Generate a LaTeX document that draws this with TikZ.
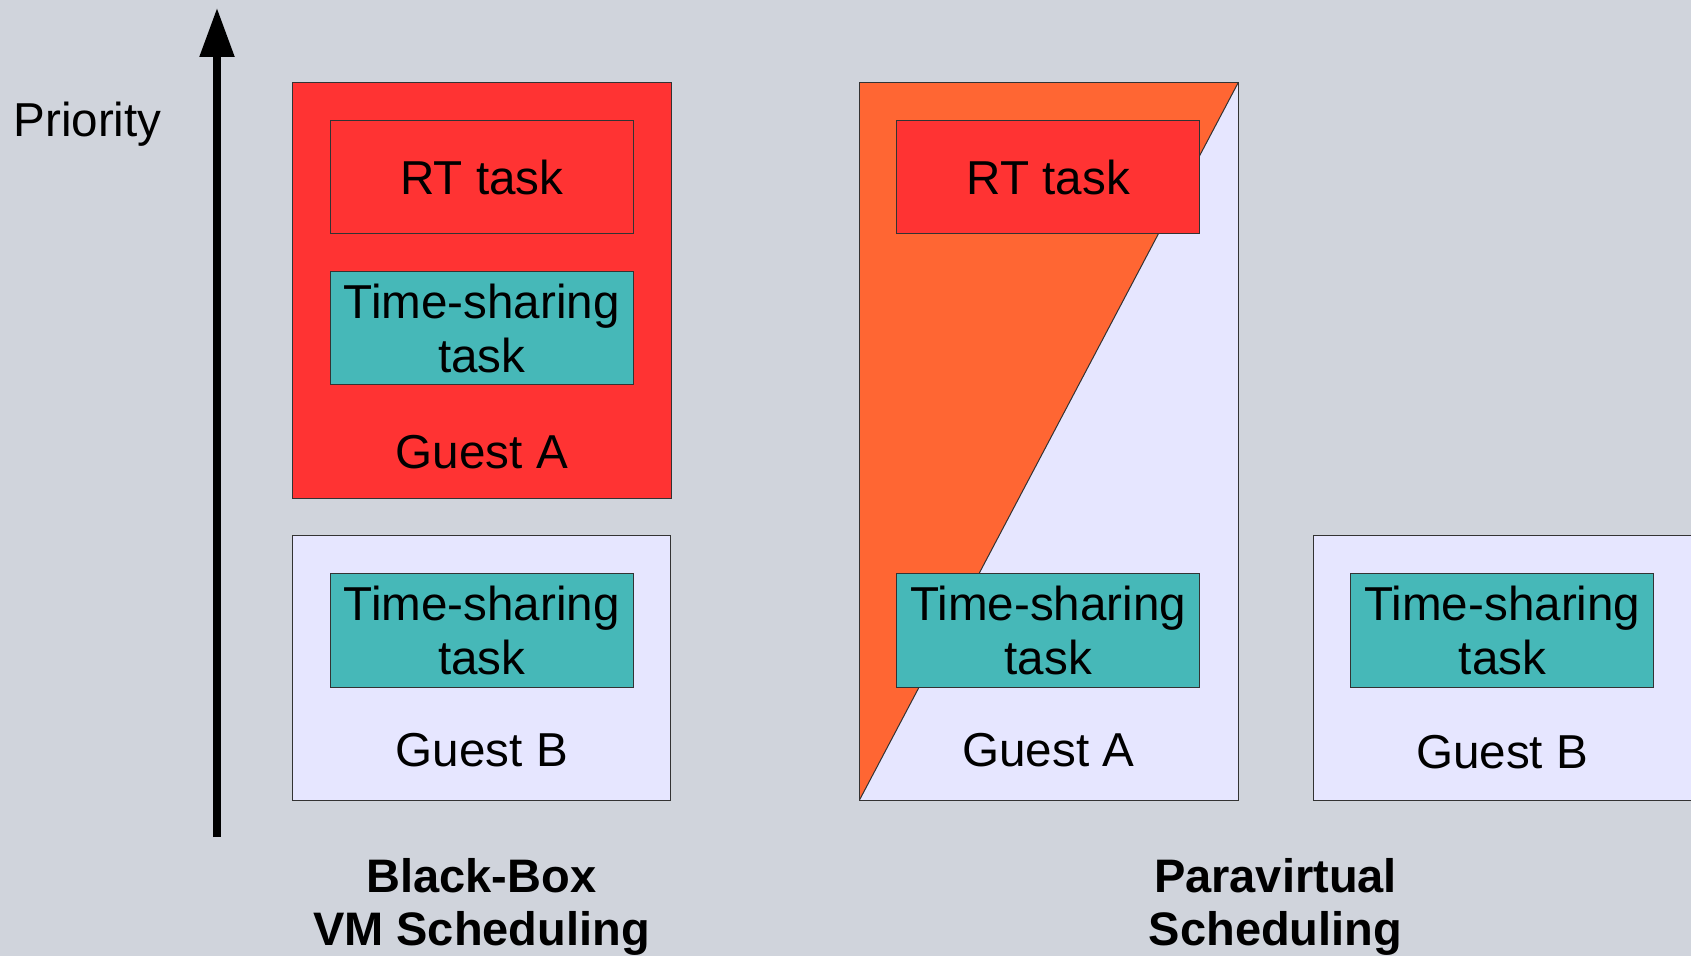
\documentclass[tikz,border=0pt]{standalone}
\usepackage{fontspec}
\setmainfont{Liberation Sans}
\usetikzlibrary{arrows.meta}
\definecolor{bgcol}{HTML}{D0D4DC}
\definecolor{rtred}{HTML}{FF3333}
\definecolor{tsteal}{HTML}{46B8B8}
\definecolor{paraorange}{HTML}{FF6633}
\definecolor{guestblue}{HTML}{E6E6FF}
\definecolor{edgegray}{HTML}{333333}
\tikzset{
  guest/.style={draw=edgegray, line width=0.5pt, inner sep=0pt, outer sep=0pt, minimum width=189.25pt},
  task/.style={draw=edgegray, line width=0.5pt, inner sep=0pt, outer sep=0pt,
    minimum width=151.5pt, minimum height=56.65pt, align=center,
    font=\fontsize{23.8}{27}\selectfont},
  rttask/.style={task, fill=rtred},
  tstask/.style={task, fill=tsteal},
  lbl/.style={inner sep=0pt, anchor=base, font=\fontsize{23.8}{27}\selectfont},
  title/.style={inner sep=0pt, align=center, font=\fontsize{23.5}{26.5}\selectfont\bfseries}
}
\begin{document}
\begin{tikzpicture}[x=0.5pt,y=-0.5pt]
\path[use as bounding box, fill=bgcol] (0,0) rectangle (1691,956);
% priority axis
\coordinate (atail) at (217,837);
\coordinate (atip) at (217,8);
\draw[line width=3.6pt, -{Triangle[width=16.7pt,length=24.5pt]}] (atail) -- (atip);
\node[lbl, anchor=base west] (prio) at (13,137) {Priority};

% black-box side
\node[guest, fill=rtred, minimum height=207.9pt] (bbA) at (481.75,290.4) {};
\node[rttask] (bbArt) at (481.8,177) {RT task};
\node[tstask] (bbAts) at (481.8,328.3) {Time-sharing\\task};
\node[lbl] (bbAlbl) at (481.8,469) {Guest A};

\node[guest, fill=guestblue, minimum height=132pt] (bbB) at (481.6,668) {};
\node[tstask] (bbBts) at (481.8,630.4) {Time-sharing\\task};
\node[lbl] (bbBlbl) at (481.8,766) {Guest B};

\node[title] (bbtitle) at (481.5,906.5) {Black-Box\\VM Scheduling};

% paravirtual side
\node[guest, fill=guestblue, minimum height=358.5pt] (pvA) at (1048.75,441.5) {};
\fill[paraorange] (pvA.north west) -- (pvA.north east) -- (pvA.south west) -- cycle;
\draw[edgegray, line width=0.5pt] (pvA.north east) -- (pvA.south west);
\draw[edgegray, line width=0.5pt] (pvA.north west) rectangle (pvA.south east);
\node[rttask] (pvArt) at (1048.3,177) {RT task};
\node[tstask] (pvAts) at (1048.3,630.4) {Time-sharing\\task};
\node[lbl] (pvAlbl) at (1048.3,766) {Guest A};

\node[guest, fill=guestblue, minimum width=190pt, minimum height=132pt] (pvB) at (1503,668) {};
\node[tstask] (pvBts) at (1502.4,630.5) {Time-sharing\\task};
\node[lbl] (pvBlbl) at (1502,768) {Guest B};

\node[title] (pvtitle) at (1275.5,906.5) {Paravirtual\\Scheduling};
\end{tikzpicture}
\end{document}
